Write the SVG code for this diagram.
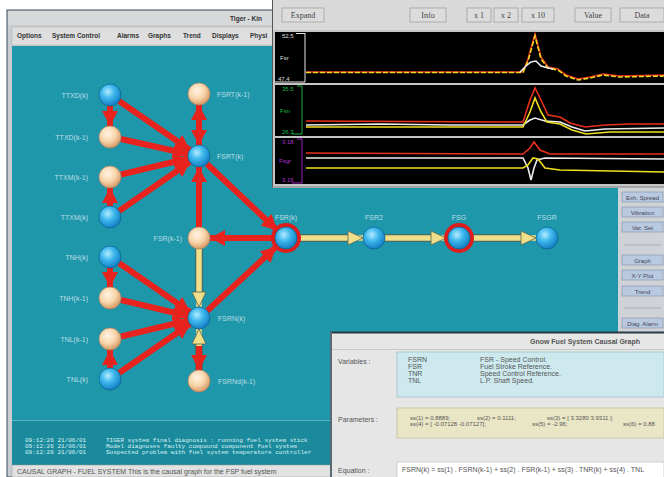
<svg xmlns="http://www.w3.org/2000/svg" width="664" height="477" viewBox="0 0 664 477">
<defs>
<radialGradient id="gb" cx="40%" cy="35%" r="65%">
<stop offset="0" stop-color="#b4ecff"/><stop offset="0.45" stop-color="#3fb9ee"/><stop offset="1" stop-color="#137fc4"/>
</radialGradient>
<radialGradient id="go" cx="40%" cy="35%" r="65%">
<stop offset="0" stop-color="#fff4e4"/><stop offset="0.55" stop-color="#f8d6ac"/><stop offset="1" stop-color="#d89c68"/>
</radialGradient>
<marker id="ra" markerUnits="userSpaceOnUse" markerWidth="16" markerHeight="16" refX="15" refY="8" orient="auto-start-reverse">
<path d="M0,0 L15,8 L0,16 z" fill="#e8231d"/>
</marker>
<marker id="ya" markerUnits="userSpaceOnUse" markerWidth="17" markerHeight="16" refX="16" refY="8" orient="auto">
<path d="M1,1 L16,8 L1,15 z" fill="#f0df8a" stroke="#5a6450" stroke-width="0.8"/>
</marker>
<style>
.red{fill:none;stroke:#e8231d;stroke-width:6;marker-end:url(#ra)}
.yo{fill:none;stroke:#56604c;stroke-width:7.5}
.yi{fill:none;stroke:#f0df8a;stroke-width:5.5;marker-end:url(#ya)}
.nb{fill:url(#gb);stroke:#0c5f8a;stroke-width:0.7}
.no{fill:url(#go);stroke:#b08060;stroke-width:0.7}
.ring{fill:none;stroke:#e01d1d;stroke-width:4}
.lbl{font-family:"Liberation Sans",Arial,sans-serif;font-size:7px;fill:#b9dde6}
.menu{font-family:"Liberation Sans",Arial,sans-serif;font-size:6.5px;font-weight:bold;fill:#333}
.tb{font-family:"Liberation Serif","Times New Roman",serif;font-size:8px;fill:#444}
.btn{fill:#dcdcdc;stroke:#9a9a9a;stroke-width:0.7}
.rb{fill:#b9c9e0;stroke:#8a98b0;stroke-width:0.7}
.rbt{font-family:"Liberation Sans",Arial,sans-serif;font-size:6px;fill:#445;text-anchor:middle}
.ax{font-family:"Liberation Sans",Arial,sans-serif;font-size:6px}
.log{font-family:"Liberation Mono","Courier New",monospace;font-size:6px;fill:#d8f2f4}
.dt{font-family:"Liberation Sans",Arial,sans-serif;font-size:7px;fill:#555}
.pt{font-family:"Liberation Sans",Arial,sans-serif;font-size:6px;fill:#555}
.plot{fill:none;stroke-width:1.6}
</style>
</defs>

<!-- page background -->
<rect x="0" y="0" width="664" height="477" fill="#ffffff"/>

<!-- left main window -->
<g id="main-window">
<rect x="7" y="10" width="660" height="467" fill="#c9cdd2" stroke="#3c4c5a" stroke-width="1"/>
<rect x="8" y="11" width="300" height="14" fill="#d6d8da"/>
<text x="230" y="21" class="menu" font-weight="normal">Tiger - Kin</text>
<rect x="12" y="27" width="300" height="18" fill="#dedede" stroke="#aaa" stroke-width="0.5"/>
<text x="17" y="38" class="menu">Options</text>
<text x="52" y="38" class="menu">System Control</text>
<text x="117" y="38" class="menu">Alarms</text>
<text x="148" y="38" class="menu">Graphs</text>
<text x="183" y="38" class="menu">Trend</text>
<text x="212" y="38" class="menu">Displays</text>
<text x="250" y="38" class="menu">Physi</text>
<rect x="12" y="46" width="606" height="374" fill="#1f97aa"/>
<rect x="12" y="420" width="330" height="45" fill="#1b8a9d"/>
<line x1="12" y1="420.5" x2="342" y2="420.5" stroke="#5fb5c2" stroke-width="1"/>
<text class="log" x="25" y="442">09:12:26 21/06/01</text>
<text class="log" x="25" y="448">09:12:26 21/06/01</text>
<text class="log" x="25" y="454">09:12:26 21/06/01</text>
<text class="log" x="106" y="442">TIGER system final diagnosis : running fuel system stick</text>
<text class="log" x="106" y="448">Model diagnoses faulty compound component fuel system</text>
<text class="log" x="106" y="454">Suspected problem with fuel system temperature controller</text>
<rect x="12" y="465" width="330" height="12" fill="#e2e2e2" stroke="#999" stroke-width="0.5"/>
<text x="17" y="473.5" class="dt" font-size="6.2px" fill="#444">CAUSAL GRAPH - FUEL SYSTEM   This is the causal graph for the FSP fuel system</text>
</g>

<!-- connectors -->
<g id="connectors">
<line class="red" x1="110" y1="106" x2="110" y2="126"/>
<line class="red" x1="119" y1="101" x2="190" y2="150"/>
<line class="red" x1="121" y1="139" x2="188" y2="154"/>
<line class="red" x1="121" y1="174.5" x2="188" y2="158.5"/>
<line class="red" x1="119" y1="211" x2="190" y2="162"/>
<line class="red" x1="110" y1="206" x2="110" y2="188"/>
<line class="red" x1="199" y1="105" x2="199" y2="145" style="marker-start:url(#ra)"/>
<line class="red" x1="207" y1="164" x2="277" y2="230"/>
<line class="red" x1="273" y1="238" x2="210" y2="238"/>
<line class="red" x1="199" y1="227" x2="199" y2="167"/>
<line class="red" x1="110" y1="268" x2="110" y2="287"/>
<line class="red" x1="119" y1="263" x2="190" y2="312"/>
<line class="red" x1="121" y1="300" x2="188" y2="316"/>
<line class="red" x1="121" y1="336.5" x2="188" y2="320.5"/>
<line class="red" x1="119" y1="373" x2="190" y2="324"/>
<line class="red" x1="110" y1="368" x2="110" y2="350"/>
<line class="red" x1="207" y1="311" x2="276" y2="247"/>
<!-- yellow -->
<line class="yo" x1="199" y1="249" x2="199" y2="292"/>
<line class="yi" x1="199" y1="249" x2="199" y2="307"/>
<line class="yo" x1="199" y1="370" x2="199" y2="344"/>
<line class="yi" x1="199" y1="370" x2="199" y2="329"/>
<line class="red" x1="199" y1="346" x2="199" y2="370"/>
<line class="yo" x1="299" y1="238" x2="348" y2="238"/>
<line class="yi" x1="299" y1="238" x2="363" y2="238"/>
<line class="yo" x1="385" y1="238" x2="431" y2="238"/>
<line class="yi" x1="385" y1="238" x2="446" y2="238"/>
<line class="yo" x1="472" y1="238" x2="521" y2="238"/>
<line class="yi" x1="472" y1="238" x2="536" y2="238"/>
</g>

<!-- nodes -->
<g id="n-ttxd-k"><circle class="nb" cx="110" cy="95" r="11"/><text class="lbl" x="88" y="97.5" text-anchor="end">TTXD(k)</text></g>
<g id="n-fsrt-k1"><circle class="no" cx="199" cy="94" r="11"/><text class="lbl" x="217" y="96.5">FSRT(k-1)</text></g>
<g id="n-ttxd-k1"><circle class="no" cx="110" cy="137" r="11"/><text class="lbl" x="88" y="139.5" text-anchor="end">TTXD(k-1)</text></g>
<g id="n-fsrt-k"><circle class="nb" cx="199" cy="156" r="11"/><text class="lbl" x="217" y="158.5">FSRT(k)</text></g>
<g id="n-ttxm-k1"><circle class="no" cx="110" cy="177" r="11"/><text class="lbl" x="88" y="179.5" text-anchor="end">TTXM(k-1)</text></g>
<g id="n-ttxm-k"><circle class="nb" cx="110" cy="217" r="11"/><text class="lbl" x="88" y="219.5" text-anchor="end">TTXM(k)</text></g>
<g id="n-fsr-k1"><circle class="no" cx="199" cy="238" r="11"/><text class="lbl" x="182" y="240.5" text-anchor="end">FSR(k-1)</text></g>
<g id="n-fsr-k"><circle class="ring" cx="286" cy="238" r="13"/><circle class="nb" cx="286" cy="238" r="11"/><text class="lbl" x="286" y="220" text-anchor="middle">FSR(k)</text></g>
<g id="n-tnh-k"><circle class="nb" cx="110" cy="257" r="11"/><text class="lbl" x="88" y="259.5" text-anchor="end">TNH(k)</text></g>
<g id="n-tnh-k1"><circle class="no" cx="110" cy="298" r="11"/><text class="lbl" x="88" y="300.5" text-anchor="end">TNH(k-1)</text></g>
<g id="n-tnl-k1"><circle class="no" cx="110" cy="339" r="11"/><text class="lbl" x="88" y="341.5" text-anchor="end">TNL(k-1)</text></g>
<g id="n-tnl-k"><circle class="nb" cx="110" cy="379" r="11"/><text class="lbl" x="88" y="381.5" text-anchor="end">TNL(k)</text></g>
<g id="n-fsrn-k"><circle class="nb" cx="199" cy="318" r="11"/><text class="lbl" x="218" y="320.5">FSRN(k)</text></g>
<g id="n-fsrnd-k1"><circle class="no" cx="199" cy="381" r="11"/><text class="lbl" x="218" y="383.5">FSRNd(k-1)</text></g>
<g id="n-fsr2"><circle class="nb" cx="374" cy="238" r="11"/><text class="lbl" x="374" y="220" text-anchor="middle">FSR2</text></g>
<g id="n-fsg"><circle class="ring" cx="459" cy="238" r="13"/><circle class="nb" cx="459" cy="238" r="11"/><text class="lbl" x="459" y="220" text-anchor="middle">FSG</text></g>
<g id="n-fsgr"><circle class="nb" cx="547" cy="238" r="11"/><text class="lbl" x="547" y="220" text-anchor="middle">FSGR</text></g>

<!-- trend window -->
<g id="trend-window">
<rect x="272" y="0" width="392" height="188" fill="#c4c4c4"/>
<line x1="272.5" y1="0" x2="272.5" y2="188" stroke="#555" stroke-width="1"/>
<rect x="273" y="0" width="391" height="30" fill="#d9d9d9"/>
<rect class="btn" x="282" y="8" width="42" height="14"/>
<text class="tb" x="303" y="18" text-anchor="middle">Expand</text>
<rect class="btn" x="410" y="8" width="36" height="14"/>
<text class="tb" x="428" y="18" text-anchor="middle">Info</text>
<rect class="btn" x="467" y="8" width="24" height="14"/>
<text class="tb" x="479" y="18" text-anchor="middle">x 1</text>
<rect class="btn" x="494" y="8" width="24" height="14"/>
<text class="tb" x="506" y="18" text-anchor="middle">x 2</text>
<rect class="btn" x="522" y="8" width="32" height="14"/>
<text class="tb" x="538" y="18" text-anchor="middle">x 10</text>
<rect class="btn" x="575" y="8" width="36" height="14"/>
<text class="tb" x="593" y="18" text-anchor="middle">Value</text>
<rect class="btn" x="620" y="8" width="44" height="14" fill="#c6c6c6"/>
<text class="tb" x="642" y="18" text-anchor="middle">Data</text>
<rect x="275" y="32" width="389" height="51" fill="#000"/>
<rect x="275" y="85" width="389" height="51" fill="#000"/>
<rect x="275" y="138" width="389" height="46" fill="#000"/>
<polyline points="305,33 305,82 275,82" fill="none" stroke="#e8e8e8" stroke-width="1"/>
<line x1="296" y1="33.5" x2="305" y2="33.5" stroke="#e8e8e8" stroke-width="1"/>
<text class="ax" x="282" y="38" fill="#dddddd">52.5</text>
<text class="ax" x="280" y="60" fill="#dddddd">Fsr</text>
<text class="ax" x="278" y="81" fill="#dddddd">47.4</text>
<polyline points="297,86 302,86 302,134 292,134" fill="none" stroke="#19b040" stroke-width="1"/>
<text class="ax" x="282" y="91" fill="#1fb84a">35.5</text>
<text class="ax" x="280" y="113" fill="#1fb84a">Fsn</text>
<text class="ax" x="282" y="134" fill="#1fb84a">26.3</text>
<polyline points="297,139 302,139 302,183 292,183" fill="none" stroke="#a020c0" stroke-width="1"/>
<text class="ax" x="282" y="144" fill="#b030d0">3.18</text>
<text class="ax" x="279" y="163" fill="#b030d0">Fsgr</text>
<text class="ax" x="282" y="182" fill="#b030d0">3.15</text>
<polyline class="plot" stroke="#e8301c" points="306,72 523,72 528,59 535,34 541,57 548,67 558,69 566,75 578,79 590,77 603,74 620,76 664,75"/>
<polyline class="plot" stroke="#f0d820" points="306,72.5 523,72.5 528,61 535,36 541,59 548,68 558,70 566,76 578,80 590,78 603,75 620,77 664,76" stroke-dasharray="5 2"/>
<polyline class="plot" stroke="#eeeeee" points="520,72 526,66 531,62 536,61 541,66 548,68 553,69"/>
<polyline class="plot" stroke="#e8301c" points="306,121 523,122 530,100 535,88 541,100 548,115 560,117 570,123 585,127 605,125 630,124 664,124"/>
<polyline class="plot" stroke="#eeeeee" points="306,125 380,124 450,125 523,125 530,120 535,118 545,121 560,122 572,127 585,131 605,129 664,128"/>
<polyline class="plot" stroke="#f0e020" points="306,127 523,127 530,112 535,98 541,112 547,122 560,124 572,130 586,134 610,132 664,132"/>
<polyline class="plot" stroke="#e8301c" points="306,153 523,154 530,148 534,142 540,150 550,154 664,154"/>
<polyline class="plot" stroke="#eeeeee" points="306,158 523,158 528,168 531,180 534,168 537,160 545,158 664,159"/>
<polyline class="plot" stroke="#f0e020" points="306,168 523,168 528,165 533,158 538,159 545,168 560,170 664,172"/>
<line x1="272" y1="187" x2="664" y2="187" stroke="#888" stroke-width="1"/>
</g>

<!-- right button column -->
<g id="button-panel">
<rect x="618" y="188" width="46" height="145" fill="#cfd3d8"/>
<rect class="rb" x="622" y="192" width="41" height="10"/><text class="rbt" x="642.5" y="199.5">Exh. Spread</text>
<rect class="rb" x="622" y="207" width="41" height="10"/><text class="rbt" x="642.5" y="214.5">Vibration</text>
<rect class="rb" x="622" y="222" width="41" height="10"/><text class="rbt" x="642.5" y="229.5">Var. Set</text>
<line x1="624" y1="245" x2="661" y2="245" stroke="#9aa" stroke-width="0.8"/>
<rect class="rb" x="622" y="255" width="41" height="10"/><text class="rbt" x="642.5" y="262.5">Graph</text>
<rect class="rb" x="622" y="270" width="41" height="10"/><text class="rbt" x="642.5" y="277.5">X-Y Plot</text>
<rect class="rb" x="622" y="286" width="41" height="10"/><text class="rbt" x="642.5" y="293.5">Trend</text>
<line x1="624" y1="308" x2="661" y2="308" stroke="#9aa" stroke-width="0.8"/>
<rect class="rb" x="622" y="318" width="41" height="10"/><text class="rbt" x="642.5" y="325.5">Diag. Alarm</text>
</g>

<!-- causal graph dialog -->
<g id="dialog">
<rect x="330" y="332" width="334" height="145" fill="#e6e6e6"/>
<line x1="330" y1="332.5" x2="664" y2="332.5" stroke="#2a3a44" stroke-width="2"/>
<line x1="331" y1="332" x2="331" y2="477" stroke="#5a6a74" stroke-width="2"/>
<text x="585" y="344" class="dt" font-weight="bold" fill="#444" text-anchor="middle">Gnow Fuel System Causal Graph</text>
<line x1="332" y1="349.5" x2="664" y2="349.5" stroke="#c8c8c8" stroke-width="1"/>
<text x="338" y="364" class="dt">Variables :</text>
<rect x="397" y="352" width="267" height="45" fill="#cde9ee" stroke="#9fc3ca" stroke-width="0.8"/>
<text x="408" y="362" class="dt">FSRN</text><text x="480" y="362" class="dt">FSR - Speed Control.</text>
<text x="408" y="369" class="dt">FSR</text><text x="480" y="369" class="dt">Fuel Stroke Reference.</text>
<text x="408" y="376" class="dt">TNR</text><text x="480" y="376" class="dt">Speed Control Reference.</text>
<text x="408" y="383" class="dt">TNL</text><text x="480" y="383" class="dt">L.P. Shaft Speed.</text>
<text x="338" y="422" class="dt">Parameters :</text>
<rect x="397" y="408" width="267" height="30" fill="#e9e6c6" stroke="#c4c09a" stroke-width="0.8"/>
<text x="410" y="420" class="pt">ss(1) = 0.8889;</text>
<text x="477" y="420" class="pt">ss(2) = 0.1111;</text>
<text x="547" y="420" class="pt">ss(3) = [ 3.3280  3.9311 ];</text>
<text x="410" y="426" class="pt">ss(4) = [ -0.07128  -0.07127];</text>
<text x="532" y="426" class="pt">ss(5) = -2.96;</text>
<text x="623" y="426" class="pt">ss(6) = 0.88</text>
<text x="338" y="473" class="dt">Equation :</text>
<rect x="397" y="462" width="267" height="16" fill="#ffffff" stroke="#c8c8c8" stroke-width="0.8"/>
<text x="402" y="472" class="dt" font-size="6.5px">FSRN(k) = ss(1) . FSRN(k-1) + ss(2) . FSR(k-1) + ss(3) . TNR(k) + ss(4) . TNL</text>
</g>
</svg>
